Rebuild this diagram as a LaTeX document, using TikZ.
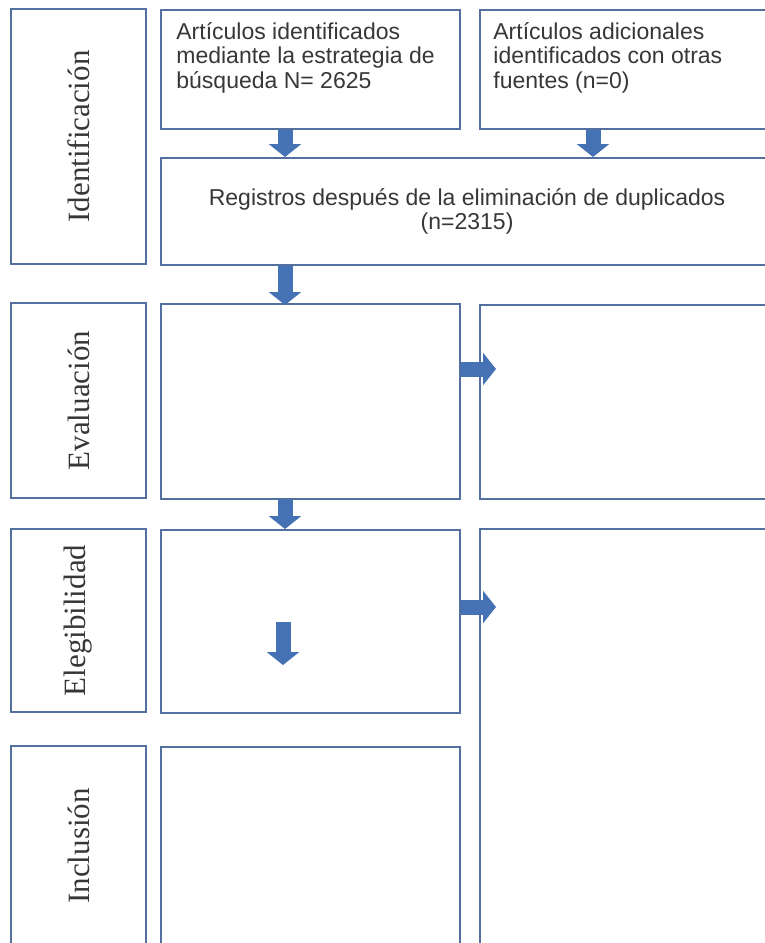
\documentclass[tikz,border=0pt]{standalone}
\usepackage{fontspec}
\setmainfont{Liberation Sans}
\newfontfamily\labfont{Liberation Serif}
\usetikzlibrary{arrows.meta}

\definecolor{boxline}{RGB}{84,112,158}
\definecolor{arrowfill}{RGB}{68,114,180}
\definecolor{txtgray}{RGB}{55,55,55}

\tikzset{
  panel/.style={draw=boxline, line width=1.1pt, inner sep=0pt, anchor=north west},
  stage/.style={draw=boxline, line width=1.1pt, inner sep=0pt, rotate=90,
    minimum height=67.5pt, font=\labfont\fontsize{15.5}{15.5}\selectfont, text=txtgray},
  boxtext/.style={inner sep=0pt, anchor=north west, align=left,
    font=\fontsize{11.5}{12.3}\selectfont, text=txtgray},
  blockarrow/.style={draw=arrowfill, line width=7.5pt, -{Triangle[length=6.5pt,width=16pt]}},
}

\begin{document}
\begin{tikzpicture}[x=0.5pt, y=-0.5pt]
    \useasboundingbox (0,0) rectangle (765,943);
    \clip (0,0) rectangle (765,943);

    % stages on the left
    \node[stage, minimum width=127.5pt] (ident) at (78.5,136.5) {Identificación};
    \node[stage, minimum width=97.5pt] (evalu) at (78.5,400.5) {Evaluación};
    \node[stage, minimum width=91.5pt] (elegi) at (78.5,620.5) {Elegibilidad};
    \node[stage, minimum width=100pt] (inclu) at (78.5,846) {Inclusión};

    % boxes
    \node[panel, minimum width=149.5pt, minimum height=59.5pt] (artA) at (160,9) {};
    \node[panel, minimum width=146.5pt, minimum height=59.5pt] (artB) at (479,9) {};
    \node[panel, minimum width=306pt, minimum height=53.5pt, align=center,
      font=\fontsize{11.5}{11.7}\selectfont, text=txtgray] (reg) at (160,157)
      {Registros después de la eliminación de duplicados\\(n=2315)};
    \node[panel, minimum width=149.5pt, minimum height=97.5pt] (evalbox) at (160,303) {};
    \node[panel, minimum width=146.5pt, minimum height=97pt] (evalside) at (479,304) {};
    \node[panel, minimum width=149.5pt, minimum height=91.5pt] (elegbox) at (160,529) {};
    \node[panel, minimum width=146.5pt, minimum height=209pt] (elegside) at (479,528) {};
    \node[panel, minimum width=149.5pt, minimum height=100pt] (inclbox) at (160,746) {};

    \node[boxtext] (textA) at ([shift={(8pt,-6.5pt)}]artA.north west)
      {Artículos identificados\\mediante la estrategia de\\búsqueda N= 2625};
    \node[boxtext] (textB) at ([shift={(7pt,-6.5pt)}]artB.north west)
      {Artículos adicionales\\identificados con otras\\fuentes (n=0)};

    % arrows
    \draw[blockarrow] ([xshift=62.5pt]artA.south west) -- ([xshift=62.5pt]artA.south west |- reg.north);
    \draw[blockarrow] ([xshift=57pt]artB.south west) -- ([xshift=57pt]artB.south west |- reg.north);
    \draw[blockarrow] ([xshift=62.5pt]reg.south west) -- ([xshift=62.5pt,yshift=-1pt]evalbox.north west);
    \draw[blockarrow] ([xshift=62.5pt]evalbox.south west) -- ([xshift=62.5pt]elegbox.north west);
    \draw[blockarrow] ([yshift=-33pt]evalbox.north east) -- ([yshift=-33pt,xshift=8.5pt]evalbox.north east -| evalside.west);
    \draw[blockarrow] ([yshift=-39pt]elegbox.north east) -- ([yshift=-39pt,xshift=8.5pt]elegbox.north east -| elegside.west);
    \draw[blockarrow] ([shift={(61.5pt,-46.5pt)}]elegbox.north west) -- ([shift={(61.5pt,-68pt)}]elegbox.north west);
\end{tikzpicture}
\end{document}
